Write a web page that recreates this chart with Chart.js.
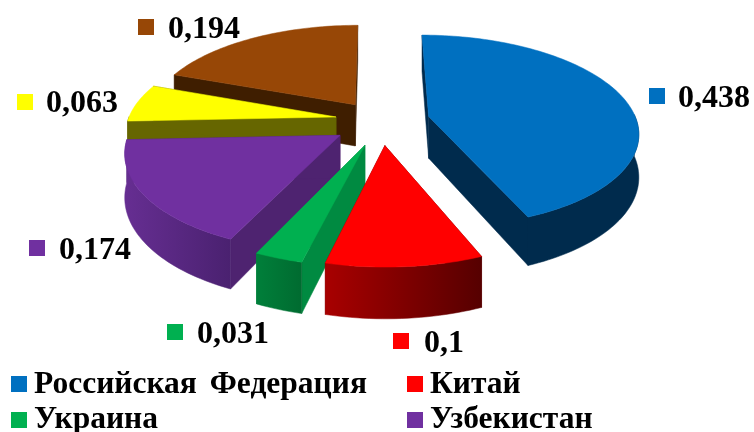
<!DOCTYPE html>
<html>
<head>
<meta charset="utf-8">
<style>
  html, body { margin: 0; padding: 0; background: #fff; overflow: hidden; }
  canvas { display: block; }
</style>
<script src="https://cdn.jsdelivr.net/npm/chart.js@4/dist/chart.umd.min.js"></script>
</head>
<body>
<canvas id="pie" width="754" height="432"></canvas>
<script>
// data (last two legend names are cut off in the reference)
const categories = ["Российская Федерация", "Китай", "Украина", "Узбекистан", "", ""];
const values = [0.438, 0.1, 0.031, 0.174, 0.063, 0.194];

// styles
const topColors = ["#0070C0", "#FF0000", "#00B050", "#7030A0", "#FFFF00", "#974706"];
const sideColors = ["#002B4D", "#600000", "#008A41", "#4E2370", "#666600", "#3F1E00"];
const wallLeft = ["#002B4D", "#A80000", "#007F3A", "#662E92", "#666600", "#3F1E00"];
const wallRight = ["#002B4D", "#560000", "#006B30", "#4A2170", "#666600", "#3F1E00"];
const explode = [25, 24, 24, 21, 21, 16]; // share of the radius, in percent
const nudgeX = [1, 4, 5, 0, 2, -3];
const nudgeY = [-2, -1, 0, 1, -3, -6];

// flat projection of the tilted pie
const CX = 377, CY = 123, SX = 208, SY = 95, TILT = 0.152, DEPTH = 42;
const FONT = "Liberation Serif";

function project(x, y, drop) {
  const w = 1 + y * TILT;
  return [CX + SX * x / w, CY - SY * y / w + (drop ? DEPTH / w : 0)];
}

function fillPoly(ctx, pts, fill) {
  ctx.beginPath();
  pts.forEach((p, i) => (i ? ctx.lineTo(p[0], p[1]) : ctx.moveTo(p[0], p[1])));
  ctx.closePath();
  ctx.fillStyle = fill;
  ctx.strokeStyle = fill;
  ctx.lineWidth = 0.5;
  ctx.fill();
  ctx.stroke();
}

// draw one arc element as a solid slice
function drawSlice(ctx, el, i) {
  const a0 = el.startAngle + Math.PI / 2;
  const a1 = el.endAngle + Math.PI / 2;
  const mid = (a0 + a1) / 2;
  const o = el.options.offset / 100;
  const ox = o * Math.sin(mid), oy = o * Math.cos(mid);
  const steps = Math.max(8, Math.round((a1 - a0) * 40));

  const rim = [];
  for (let s = 0; s <= steps; s++) {
    const a = a0 + (a1 - a0) * s / steps;
    rim.push([ox + Math.sin(a), oy + Math.cos(a)]);
  }
  const apex = project(ox, oy, false);
  const apexLow = project(ox, oy, true);
  const first = rim[0], last = rim[rim.length - 1];

  ctx.save();
  ctx.translate(nudgeX[i], nudgeY[i]);

  // radial walls
  fillPoly(ctx, [apex, project(first[0], first[1]), project(first[0], first[1], true), apexLow], sideColors[i]);
  fillPoly(ctx, [apex, project(last[0], last[1]), project(last[0], last[1], true), apexLow], sideColors[i]);

  // outer wall, only the part facing us
  const front = rim.filter((p, s) => Math.cos(a0 + (a1 - a0) * s / steps) < 0.03);
  if (front.length > 1) {
    const up = front.map(p => project(p[0], p[1]));
    const down = front.map(p => project(p[0], p[1], true)).reverse();
    const xs = up.map(p => p[0]);
    const grad = ctx.createLinearGradient(Math.min(...xs), 0, Math.max(...xs), 0);
    grad.addColorStop(0, wallLeft[i]);
    grad.addColorStop(1, wallRight[i]);
    fillPoly(ctx, up.concat(down), grad);
  }

  // top face
  fillPoly(ctx, [apex].concat(rim.map(p => project(p[0], p[1]))), el.options.backgroundColor);
  ctx.restore();
}

const solidPie = {
  id: "solidPie",
  beforeDatasetsDraw(chart) {
    const ctx = chart.ctx;
    const arcs = chart.getDatasetMeta(0).data;
    const depth = i => {
      const el = arcs[i];
      const mid = (el.startAngle + el.endAngle) / 2 + Math.PI / 2;
      return Math.cos(mid);
    };
    const order = arcs.map((el, i) => i).sort((a, b) => depth(b) - depth(a));
    ctx.save();
    order.forEach(i => drawSlice(ctx, arcs[i], i));
    ctx.restore();
    return false;
  }
};

// value labels and the legend, placed as in the reference
const valueSpots = [[649, 88, 678, 107], [393, 333, 424, 352], [167, 324, 197, 343],
                    [29, 240, 59, 259], [17, 94, 46, 112], [138, 19, 168, 38]];
const legendSpots = [[11, 376, 34, 393], [407, 376, 430, 393], [11, 412, 34, 428], [407, 412, 430, 428]];

const textBits = {
  id: "textBits",
  afterDraw(chart) {
    const ctx = chart.ctx;
    ctx.save();
    ctx.textBaseline = "alphabetic";
    values.forEach((v, i) => {
      const s = valueSpots[i];
      ctx.fillStyle = topColors[i];
      ctx.fillRect(s[0], s[1], 16, 16);
      ctx.fillStyle = "#000";
      ctx.font = "bold 32px '" + FONT + "'";
      ctx.fillText(String(v).replace(".", ","), s[2], s[3]);
    });
    legendSpots.forEach((s, i) => {
      ctx.fillStyle = topColors[i];
      ctx.fillRect(s[0], s[1], 16, 16);
      ctx.fillStyle = "#000";
      ctx.font = "bold 31.5px '" + FONT + "'";
      ctx.wordSpacing = "5px";
      ctx.fillText(categories[i], s[2], s[3]);
    });
    ctx.restore();
  }
};

new Chart(document.getElementById("pie"), {
  type: "pie",
  data: {
    labels: categories,
    datasets: [{ data: values, backgroundColor: topColors, offset: explode, borderWidth: 0 }]
  },
  options: {
    responsive: false,
    animation: false,
    plugins: { legend: { display: false }, tooltip: { enabled: false } }
  },
  plugins: [solidPie, textBits]
});
</script>
</body>
</html>
